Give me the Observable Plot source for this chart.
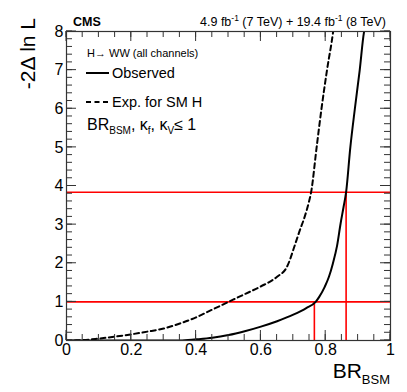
<!DOCTYPE html>
<html><head><meta charset="utf-8">
<script src="https://cdn.jsdelivr.net/npm/d3@7"></script>
<script src="https://cdn.jsdelivr.net/npm/@observablehq/plot@0.6"></script>
<style>body{margin:0;background:#fff}</style>
</head><body><div id="chart"></div>
<script>
// Observed -2 Delta ln L versus BR_BSM
const obsBR  = [0, 0.1, 0.2, 0.3, 0.35, 0.4, 0.45, 0.5, 0.55, 0.6, 0.65, 0.7, 0.74, 0.769, 0.78, 0.797, 0.81, 0.822, 0.835, 0.846, 0.855, 0.863, 0.876, 0.89, 0.905, 0.918, 0.925];
const obsNLL = [0, 0, 0, 0, 0.0, 0.03, 0.07, 0.14, 0.24, 0.36, 0.5, 0.67, 0.84, 1.0, 1.13, 1.39, 1.65, 1.99, 2.45, 3.03, 3.45, 3.84, 5.0, 6.0, 7.0, 7.97, 8.2];
// Expected for SM Higgs
const expBR  = [0, 0.05, 0.1, 0.15, 0.2, 0.25, 0.3, 0.35, 0.4, 0.45, 0.5, 0.55, 0.6, 0.65, 0.68, 0.69, 0.7, 0.71, 0.72, 0.735, 0.748, 0.755, 0.772, 0.787, 0.804, 0.823, 0.826];
const expNLL = [0, 0.01, 0.05, 0.1, 0.16, 0.23, 0.31, 0.44, 0.6, 0.8, 1.0, 1.2, 1.4, 1.65, 1.9, 2.1, 2.35, 2.6, 2.85, 3.2, 3.58, 3.84, 5.0, 6.0, 7.0, 8.0, 8.2];
// 68% / 95% CL thresholds and their crossings with the observed curve
const thresholds = [1, 3.84];
const crossings = [0.765, 0.863];
// axis ranges and ticks
const xDomain = [0, 1];
const yDomain = [0, 8];
const xMajor = [0, 0.2, 0.4, 0.6, 0.8, 1];
const xMinor = [0, 0.05, 0.1, 0.15, 0.2, 0.25, 0.3, 0.35, 0.4, 0.45, 0.5, 0.55, 0.6, 0.65, 0.7, 0.75, 0.8, 0.85, 0.9, 0.95, 1];
const yMajor = [0, 1, 2, 3, 4, 5, 6, 7, 8];
const yMinor = d3.range(0, 41).map(i => i / 5);

const observed = obsBR.map((x, i) => ({x, y: obsNLL[i]}));
const expected = expBR.map((x, i) => ({x, y: expNLL[i]}));
const hLines = thresholds.map(y => ({y}));
const vLines = crossings.map((x, i) => ({x, y: thresholds[i]}));

const FONT = "'Liberation Sans', Arial, Helvetica, sans-serif";
const AX = "#333";
const W = 407, H = 392, MT = 31, MR = 17, MB = 52, ML = 66;

const chart = Plot.plot({
  width: W, height: H,
  marginTop: MT, marginRight: MR, marginBottom: MB, marginLeft: ML,
  style: {fontFamily: FONT, fontSize: "15px", color: "#000", background: "#fff"},
  x: {domain: xDomain, nice: false},
  y: {domain: yDomain, nice: false},
  marks: [
    Plot.ruleY(hLines, {y: "y", stroke: "#ff0000", strokeWidth: 1.6}),
    Plot.ruleX(vLines, {x: "x", y1: 0, y2: "y", stroke: "#ff0000", strokeWidth: 1.6}),
    Plot.line(expected, {x: "x", y: "y", stroke: "#000", strokeWidth: 2, strokeDasharray: "5,3.5", curve: "monotone-x", clip: true}),
    Plot.line(observed, {x: "x", y: "y", stroke: "#000", strokeWidth: 2, curve: "monotone-x", clip: true}),
    Plot.axisX({ticks: xMajor, anchor: "bottom", tickSize: 0, tickPadding: 3, fontSize: 16, tickFormat: d => String(d), label: null}),
    Plot.axisY({ticks: yMajor, anchor: "left", tickSize: 0, tickPadding: 3, fontSize: 16, tickFormat: d => String(d), label: null}),
    Plot.frame({stroke: AX, strokeWidth: 1.2})
  ]
});

document.getElementById("chart").appendChild(chart);

const svg = d3.select(chart);

// inward tick marks on all four sides, placed with the chart's own scales
const sx = chart.scale("x"), sy = chart.scale("y");
const x0 = sx.apply(xDomain[0]), x1 = sx.apply(xDomain[1]);
const y0 = sy.apply(yDomain[0]), y1 = sy.apply(yDomain[1]);
const tg = svg.append("g").attr("stroke", AX).attr("stroke-width", 1);
function xt(vals, len) {
  vals.forEach(v => {
    const px = sx.apply(v);
    tg.append("line").attr("x1", px).attr("x2", px).attr("y1", y0).attr("y2", y0 - len);
    tg.append("line").attr("x1", px).attr("x2", px).attr("y1", y1).attr("y2", y1 + len);
  });
}
function yt(vals, len) {
  vals.forEach(v => {
    const py = sy.apply(v);
    tg.append("line").attr("y1", py).attr("y2", py).attr("x1", x0).attr("x2", x0 + len);
    tg.append("line").attr("y1", py).attr("y2", py).attr("x1", x1).attr("x2", x1 - len);
  });
}
xt(xMinor, 6); xt(xMajor, 10); yt(yMinor, 6); yt(yMajor, 10);

// Rich text (sub/superscripts) and legend, added to the same SVG
const g = svg.append("g").attr("font-family", FONT).attr("fill", "#000").attr("text-anchor", "start");

g.append("text").attr("x", 73).attr("y", 26).attr("font-size", 12.5).attr("font-weight", "bold").text("CMS");

const lumi = g.append("text").attr("x", 386).attr("y", 26).attr("font-size", 12.5).attr("text-anchor", "end");
lumi.append("tspan").text("4.9 fb");
lumi.append("tspan").attr("font-size", 8.5).attr("dy", -5).text("-1");
lumi.append("tspan").attr("dy", 5).text(" (7 TeV) + 19.4 fb");
lumi.append("tspan").attr("font-size", 8.5).attr("dy", -5).text("-1");
lumi.append("tspan").attr("dy", 5).text(" (8 TeV)");

g.append("text").attr("x", 87).attr("y", 57).attr("font-size", 11).text("H\u2192 WW (all channels)");
g.append("line").attr("x1", 86).attr("x2", 109).attr("y1", 73).attr("y2", 73).attr("stroke", "#000").attr("stroke-width", 2);
g.append("text").attr("x", 112).attr("y", 78).attr("font-size", 14.5).text("Observed");
g.append("line").attr("x1", 86).attr("x2", 109).attr("y1", 102).attr("y2", 102).attr("stroke", "#000").attr("stroke-width", 2).attr("stroke-dasharray", "5,3.5");
g.append("text").attr("x", 112).attr("y", 106.5).attr("font-size", 14.5).text("Exp. for SM H");

const br = g.append("text").attr("x", 87).attr("y", 130).attr("font-size", 16);
br.append("tspan").text("BR");
br.append("tspan").attr("font-size", 10).attr("dy", 4).text("BSM");
br.append("tspan").attr("dy", -4).text(", \u03ba");
br.append("tspan").attr("font-size", 10).attr("dy", 4).text("f");
br.append("tspan").attr("dy", -4).text(", \u03ba");
br.append("tspan").attr("font-size", 10).attr("dy", 4).text("V");
br.append("tspan").attr("dy", -4).text("\u2264 1");

const xl = g.append("text").attr("x", 390).attr("y", 378).attr("font-size", 21).attr("text-anchor", "end");
xl.append("tspan").text("BR");
xl.append("tspan").attr("font-size", 13).attr("dy", 6).text("BSM");

g.append("text").attr("transform", "translate(35,18) rotate(-90)").attr("font-size", 21).attr("text-anchor", "end").text("-2\u0394 ln L");
</script>
</body></html>
